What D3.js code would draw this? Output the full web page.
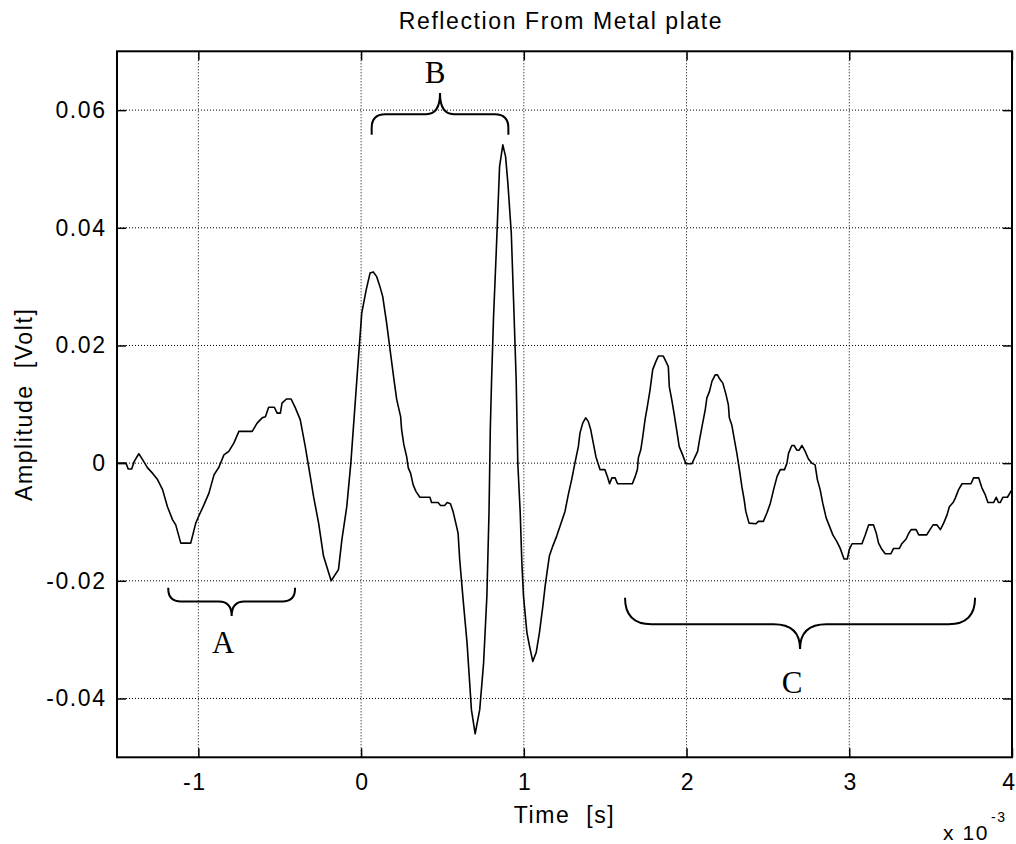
<!DOCTYPE html>
<html>
<head>
<meta charset="utf-8">
<script src="https://cdn.jsdelivr.net/npm/d3@7"></script>
<style>
  body { margin: 0; background: #fff; }
  text { white-space: pre; }
</style>
</head>
<body>
<svg id="chart" width="1016" height="844"></svg>
<script>
// Recorded echo: time in units of 1e-3 s, amplitude in volts
const timeMs = [
  -1.500, -1.445, -1.431, -1.410, -1.394, -1.366, -1.343, -1.312, -1.282, -1.251,
  -1.220, -1.190, -1.159, -1.139, -1.108, -1.047, -1.016, -0.996, -0.966, -0.935,
  -0.904, -0.874, -0.843, -0.813, -0.782, -0.751, -0.669, -0.639, -0.608, -0.588,
  -0.568, -0.533, -0.516, -0.496, -0.486, -0.459, -0.430, -0.404, -0.374, -0.343,
  -0.312, -0.292, -0.261, -0.231, -0.184, -0.139, -0.118, -0.088, -0.063, -0.026,
  0.004, 0.031, 0.055, 0.075, 0.096, 0.116, 0.133, 0.157, 0.178, 0.202,
  0.219, 0.243, 0.249, 0.263, 0.280, 0.290, 0.304, 0.320, 0.337, 0.361,
  0.423, 0.433, 0.473, 0.488, 0.514, 0.529, 0.549, 0.565, 0.582, 0.596,
  0.606, 0.627, 0.651, 0.678, 0.701, 0.729, 0.753, 0.773, 0.786, 0.794,
  0.802, 0.814, 0.831, 0.851, 0.871, 0.888, 0.902, 0.923, 0.937, 0.953,
  0.963, 0.978, 0.988, 0.998, 1.019, 1.035, 1.055, 1.076, 1.096, 1.117,
  1.131, 1.145, 1.157, 1.178, 1.202, 1.223, 1.253, 1.273, 1.294, 1.314,
  1.335, 1.345, 1.362, 1.380, 1.396, 1.411, 1.427, 1.443, 1.468, 1.498,
  1.514, 1.527, 1.541, 1.561, 1.576, 1.667, 1.684, 1.698, 1.704, 1.719,
  1.731, 1.745, 1.759, 1.776, 1.792, 1.812, 1.827, 1.857, 1.878, 1.888,
  1.894, 1.909, 1.923, 1.939, 1.955, 1.976, 1.996, 2.033, 2.053, 2.068,
  2.080, 2.095, 2.115, 2.125, 2.141, 2.156, 2.176, 2.190, 2.206, 2.223,
  2.243, 2.257, 2.263, 2.278, 2.294, 2.309, 2.325, 2.340, 2.354, 2.364,
  2.384, 2.427, 2.441, 2.472, 2.495, 2.515, 2.535, 2.556, 2.576, 2.602,
  2.617, 2.627, 2.647, 2.661, 2.678, 2.692, 2.709, 2.729, 2.749, 2.770,
  2.790, 2.804, 2.821, 2.837, 2.858, 2.878, 2.899, 2.923, 2.943, 2.968,
  2.988, 3.000, 3.017, 3.078, 3.098, 3.119, 3.149, 3.166, 3.180, 3.201,
  3.221, 3.256, 3.272, 3.308, 3.323, 3.349, 3.364, 3.380, 3.411, 3.427,
  3.476, 3.496, 3.515, 3.539, 3.560, 3.580, 3.601, 3.615, 3.638, 3.652,
  3.672, 3.693, 3.748, 3.764, 3.795, 3.815, 3.836, 3.852, 3.887, 3.903,
  3.917, 3.927, 3.944, 3.972, 3.993, 4.000
];
const amplitude = [
  0.0000, 0.0000, -0.0010, -0.0010, 0.0003, 0.0016, 0.0006, -0.0008, -0.0017, -0.0028,
  -0.0045, -0.0074, -0.0096, -0.0105, -0.0136, -0.0136, -0.0102, -0.0089, -0.0071, -0.0051,
  -0.0020, -0.0007, 0.0014, 0.0020, 0.0034, 0.0054, 0.0054, 0.0068, 0.0077, 0.0079,
  0.0095, 0.0095, 0.0085, 0.0085, 0.0102, 0.0109, 0.0109, 0.0094, 0.0074, 0.0028,
  -0.0023, -0.0057, -0.0102, -0.0158, -0.0200, -0.0181, -0.0130, -0.0074, 0.0000, 0.0142,
  0.0255, 0.0294, 0.0323, 0.0325, 0.0317, 0.0300, 0.0283, 0.0238, 0.0193, 0.0142,
  0.0108, 0.0079, 0.0057, 0.0031, 0.0011, -0.0008, -0.0017, -0.0037, -0.0048, -0.0058,
  -0.0058, -0.0067, -0.0067, -0.0072, -0.0072, -0.0067, -0.0069, -0.0082, -0.0102, -0.0119,
  -0.0164, -0.0232, -0.0305, -0.0419, -0.0460, -0.0419, -0.0339, -0.0226, -0.0085, 0.0057,
  0.0142, 0.0249, 0.0362, 0.0504, 0.0541, 0.0521, 0.0476, 0.0391, 0.0277, 0.0142,
  0.0000, -0.0085, -0.0170, -0.0226, -0.0288, -0.0311, -0.0337, -0.0322, -0.0288, -0.0243,
  -0.0209, -0.0181, -0.0158, -0.0141, -0.0124, -0.0107, -0.0082, -0.0054, -0.0028, 0.0000,
  0.0028, 0.0051, 0.0068, 0.0077, 0.0071, 0.0057, 0.0034, 0.0011, -0.0011, -0.0011,
  -0.0023, -0.0035, -0.0025, -0.0025, -0.0035, -0.0035, -0.0023, -0.0011, 0.0009, 0.0023,
  0.0045, 0.0074, 0.0096, 0.0125, 0.0159, 0.0173, 0.0182, 0.0182, 0.0170, 0.0164,
  0.0130, 0.0108, 0.0085, 0.0057, 0.0028, 0.0014, -0.0001, -0.0001, 0.0011, 0.0020,
  0.0040, 0.0062, 0.0091, 0.0111, 0.0122, 0.0139, 0.0150, 0.0150, 0.0142, 0.0136,
  0.0116, 0.0099, 0.0077, 0.0065, 0.0040, 0.0017, -0.0011, -0.0040, -0.0062, -0.0082,
  -0.0102, -0.0103, -0.0099, -0.0099, -0.0084, -0.0068, -0.0045, -0.0023, -0.0011, -0.0011,
  0.0000, 0.0017, 0.0030, 0.0030, 0.0022, 0.0022, 0.0030, 0.0020, 0.0007, 0.0000,
  -0.0003, -0.0028, -0.0045, -0.0068, -0.0093, -0.0107, -0.0122, -0.0133, -0.0144, -0.0163,
  -0.0163, -0.0147, -0.0137, -0.0137, -0.0122, -0.0105, -0.0105, -0.0119, -0.0136, -0.0147,
  -0.0154, -0.0154, -0.0145, -0.0145, -0.0137, -0.0129, -0.0120, -0.0113, -0.0113, -0.0122,
  -0.0122, -0.0113, -0.0105, -0.0105, -0.0113, -0.0102, -0.0088, -0.0074, -0.0067, -0.0059,
  -0.0045, -0.0035, -0.0035, -0.0025, -0.0025, -0.0042, -0.0054, -0.0067, -0.0067, -0.0058,
  -0.0067, -0.0067, -0.0058, -0.0058, -0.0048, -0.0045
];

const xTicks = [-1, 0, 1, 2, 3, 4];
const xTickLabels = ["-1", "0", "1", "2", "3", "4"];
const yTicks = [-0.04, -0.02, 0, 0.02, 0.04, 0.06];
const yTickLabels = ["-0.04", "-0.02", "0", "0.02", "0.04", "0.06"];

// Bracketed regions of the trace (time in 1e-3 s, levels in volts)
const braceLabels = ["A", "B", "C"];
const braceStart = [-1.185, 0.065, 1.622];
const braceEnd = [-0.406, 0.905, 3.773];
const braceArmLevel = [-0.0212, 0.0558, -0.0229];
const braceBarLevel = [-0.0235, 0.0593, -0.0274];
const braceTipLevel = [-0.0260, 0.0629, -0.0316];
const braceLabelTime = [-0.847, 0.454, 2.648];
const braceLabelLevel = [-0.0323, 0.0646, -0.0390];

const titleText = "Reflection From Metal plate";
const xLabelText = "Time  [s]";
const yLabelText = "Amplitude  [Volt]";

const svg = d3.select("#chart");
const plotLeft = 117, plotRight = 1012, plotTop = 51.3, plotBottom = 757.3;

const x = d3.scaleLinear().domain([-1.5, 4]).range([plotLeft, plotRight]);
const y = d3.scaleLinear().domain([-0.05, 0.07]).range([plotBottom, plotTop]);

const sans = "'Liberation Sans', Arial, Helvetica, sans-serif";
const fs = 23, ls = 1.6;

// dotted grid
const grid = svg.append("g").attr("stroke", "#000").attr("stroke-width", 1)
  .attr("stroke-dasharray", "1,2");
grid.selectAll(".gx").data(xTicks.filter(t => x(t) > plotLeft + 1 && x(t) < plotRight - 1))
  .join("line")
  .attr("x1", d => x(d)).attr("x2", d => x(d))
  .attr("y1", plotTop).attr("y2", plotBottom);
grid.selectAll(".gy").data(yTicks).join("line")
  .attr("y1", d => y(d)).attr("y2", d => y(d))
  .attr("x1", plotLeft).attr("x2", plotRight);

// axes with inward ticks on all four sides
function styleAxis(g) {
  g.select(".domain").remove();
  g.selectAll(".tick line").attr("stroke", "#000").attr("stroke-width", 1.5);
  g.selectAll(".tick text")
    .attr("fill", "#000")
    .attr("font-family", sans)
    .attr("font-size", fs)
    .attr("letter-spacing", ls);
}

svg.append("g").attr("transform", `translate(0,${plotBottom})`)
  .call(d3.axisBottom(x).tickValues(xTicks).tickFormat((d, i) => xTickLabels[i])
    .tickSizeInner(-9).tickSizeOuter(0).tickPadding(16))
  .call(styleAxis)
  // minus sign hangs to the left of the centred digits; last label kept inside the page
  .call(g => g.selectAll(".tick text").attr("dx", (d, i) => {
    const lab = xTickLabels[i];
    if (lab.startsWith("-")) return -4;
    if (i === xTicks.length - 1) return -3;
    return ls / 2;
  }));

svg.append("g").attr("transform", `translate(${plotLeft},0)`)
  .call(d3.axisLeft(y).tickValues(yTicks).tickFormat((d, i) => yTickLabels[i])
    .tickSizeInner(-9).tickSizeOuter(0).tickPadding(12))
  .call(styleAxis)
  .call(g => g.selectAll(".tick text").attr("dx", ls));

svg.append("g").attr("transform", `translate(0,${plotTop})`)
  .call(d3.axisTop(x).tickValues(xTicks).tickFormat("").tickSizeInner(-9).tickSizeOuter(0))
  .call(styleAxis);

svg.append("g").attr("transform", `translate(${plotRight},0)`)
  .call(d3.axisRight(y).tickValues(yTicks).tickFormat("").tickSizeInner(-9).tickSizeOuter(0))
  .call(styleAxis);

// plot frame
svg.append("rect")
  .attr("x", plotLeft).attr("y", plotTop)
  .attr("width", plotRight - plotLeft).attr("height", plotBottom - plotTop)
  .attr("fill", "none").attr("stroke", "#000").attr("stroke-width", 2);

// the trace
const pts = timeMs.map((t, i) => [t, amplitude[i]]);
svg.append("path")
  .datum(pts)
  .attr("fill", "none")
  .attr("stroke", "#000")
  .attr("stroke-width", 1.6)
  .attr("stroke-linejoin", "round")
  .attr("d", d3.line().x(d => x(d[0])).y(d => y(d[1])));

// curly braces marking regions
function bracePath(x1, x2, yArm, yBar, yTip) {
  const s = yBar > yArm ? 1 : -1;
  const rx = Math.min(Math.abs(yBar - yArm), (x2 - x1) / 10);
  const xm = (x1 + x2) / 2;
  const p = d3.path();
  p.moveTo(x1, yArm);
  p.lineTo(x1, yBar - s * rx);
  p.quadraticCurveTo(x1, yBar, x1 + rx, yBar);
  p.lineTo(xm - rx, yBar);
  p.quadraticCurveTo(xm, yBar, xm, yTip);
  p.quadraticCurveTo(xm, yBar, xm + rx, yBar);
  p.lineTo(x2 - rx, yBar);
  p.quadraticCurveTo(x2, yBar, x2, yBar - s * rx);
  p.lineTo(x2, yArm);
  return p.toString();
}

const braces = svg.append("g");
braceLabels.forEach((lab, i) => {
  braces.append("path")
    .attr("d", bracePath(x(braceStart[i]), x(braceEnd[i]),
      y(braceArmLevel[i]), y(braceBarLevel[i]), y(braceTipLevel[i])))
    .attr("fill", "none").attr("stroke", "#000").attr("stroke-width", 2);
  braces.append("text")
    .attr("x", x(braceLabelTime[i])).attr("y", y(braceLabelLevel[i]))
    .attr("text-anchor", "middle")
    .attr("font-family", "'Liberation Serif', 'Times New Roman', serif")
    .attr("font-size", 31)
    .text(lab);
});

// title and axis labels
svg.append("text")
  .attr("x", 561).attr("y", 29)
  .attr("text-anchor", "middle")
  .attr("font-family", sans).attr("font-size", fs).attr("letter-spacing", ls)
  .text(titleText);

svg.append("text")
  .attr("x", (plotLeft + plotRight) / 2).attr("y", 823)
  .attr("text-anchor", "middle")
  .attr("font-family", sans).attr("font-size", fs).attr("letter-spacing", ls)
  .text(xLabelText);

svg.append("text")
  .attr("transform", `translate(32,${(plotTop + plotBottom) / 2}) rotate(-90)`)
  .attr("text-anchor", "middle")
  .attr("font-family", sans).attr("font-size", fs).attr("letter-spacing", ls)
  .text(yLabelText);

// exponent of the time axis
const expo = svg.append("text")
  .attr("x", 943).attr("y", 840)
  .attr("font-family", sans).attr("font-size", 21).attr("letter-spacing", ls);
expo.append("tspan").text("x 10");
expo.append("tspan").attr("dy", -18.5).attr("dx", 2).attr("font-size", 14).text("-3");
</script>
</body>
</html>
